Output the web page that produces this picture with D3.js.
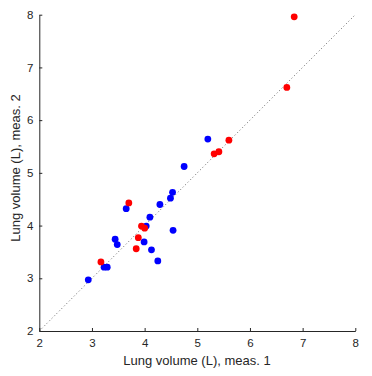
<!DOCTYPE html>
<html lang="en">
<head>
<meta charset="utf-8">
<title>Lung volume scatter</title>
<script src="https://d3js.org/d3.v7.min.js"></script>
<style>
  body { margin: 0; background: #fff; }
  svg { display: block; }
  text { font-family: "Liberation Sans", Arial, sans-serif; fill: #262626; }
</style>
</head>
<body>
<svg width="372" height="376"></svg>
<script>
// measurement 1 vs measurement 2, two groups
const blueX = [5.20, 4.75, 4.53, 4.49, 4.29, 3.65, 4.10, 4.03, 4.54, 3.44, 3.48, 3.99, 4.13, 4.25, 3.23, 3.29, 2.93];
const blueY = [5.64, 5.12, 4.63, 4.52, 4.40, 4.32, 4.16, 3.99, 3.91, 3.74, 3.64, 3.69, 3.54, 3.33, 3.21, 3.21, 2.97];
const redX = [6.84, 6.70, 5.60, 5.41, 5.32, 3.70, 3.94, 4.00, 3.88, 3.84, 3.17];
const redY = [7.96, 6.62, 5.62, 5.40, 5.36, 4.43, 3.99, 3.95, 3.77, 3.56, 3.31];
const ticks = [2, 3, 4, 5, 6, 7, 8];

const svg = d3.select("svg");
const x = d3.scaleLinear().domain([2, 8]).range([39.3, 355.3]);
const y = d3.scaleLinear().domain([2, 8]).range([331, 14.7]);

// identity line
svg.append("line")
   .attr("x1", x(2)).attr("y1", y(2))
   .attr("x2", x(8)).attr("y2", y(8))
   .attr("stroke", "#666")
   .attr("stroke-width", 1)
   .attr("stroke-dasharray", "1,2.5");

// axes
const xAxis = d3.axisBottom(x).tickValues(ticks).tickFormat(d3.format("d"))
                .tickSizeInner(-3).tickSizeOuter(0).tickPadding(6);
const yAxis = d3.axisLeft(y).tickValues(ticks).tickFormat(d3.format("d"))
                .tickSizeInner(-3).tickSizeOuter(0).tickPadding(6);

const gx = svg.append("g").attr("transform", `translate(0,${y(2)})`).call(xAxis);
const gy = svg.append("g").attr("transform", `translate(${x(2)},0)`).call(yAxis);
[gx, gy].forEach(g => {
  g.select(".domain").attr("stroke", "#262626");
  g.selectAll(".tick line").attr("stroke", "#262626");
  g.selectAll(".tick text").attr("font-size", 11.5).attr("fill", "#262626")
   .style("font-family", "'Liberation Sans', Arial, sans-serif");
});
gx.selectAll(".tick text").attr("dy", "0.9em");

// points: blue first, red on top
const pts = (xs, ys) => xs.map((d, i) => [d, ys[i]]);
svg.append("g").selectAll("circle")
   .data(pts(blueX, blueY))
   .enter().append("circle")
   .attr("cx", d => x(d[0]))
   .attr("cy", d => y(d[1]))
   .attr("r", 3.4)
   .style("fill", "#0000ff");
svg.append("g").selectAll("circle")
   .data(pts(redX, redY))
   .enter().append("circle")
   .attr("cx", d => x(d[0]))
   .attr("cy", d => y(d[1]))
   .attr("r", 3.4)
   .style("fill", "#ff0000");

// labels
svg.append("text")
   .attr("x", 197).attr("y", 365)
   .attr("text-anchor", "middle")
   .attr("font-size", 13)
   .text("Lung volume (L), meas. 1");
svg.append("text")
   .attr("transform", "translate(20,168) rotate(-90)")
   .attr("text-anchor", "middle")
   .attr("font-size", 13)
   .text("Lung volume (L), meas. 2");
</script>
</body>
</html>
